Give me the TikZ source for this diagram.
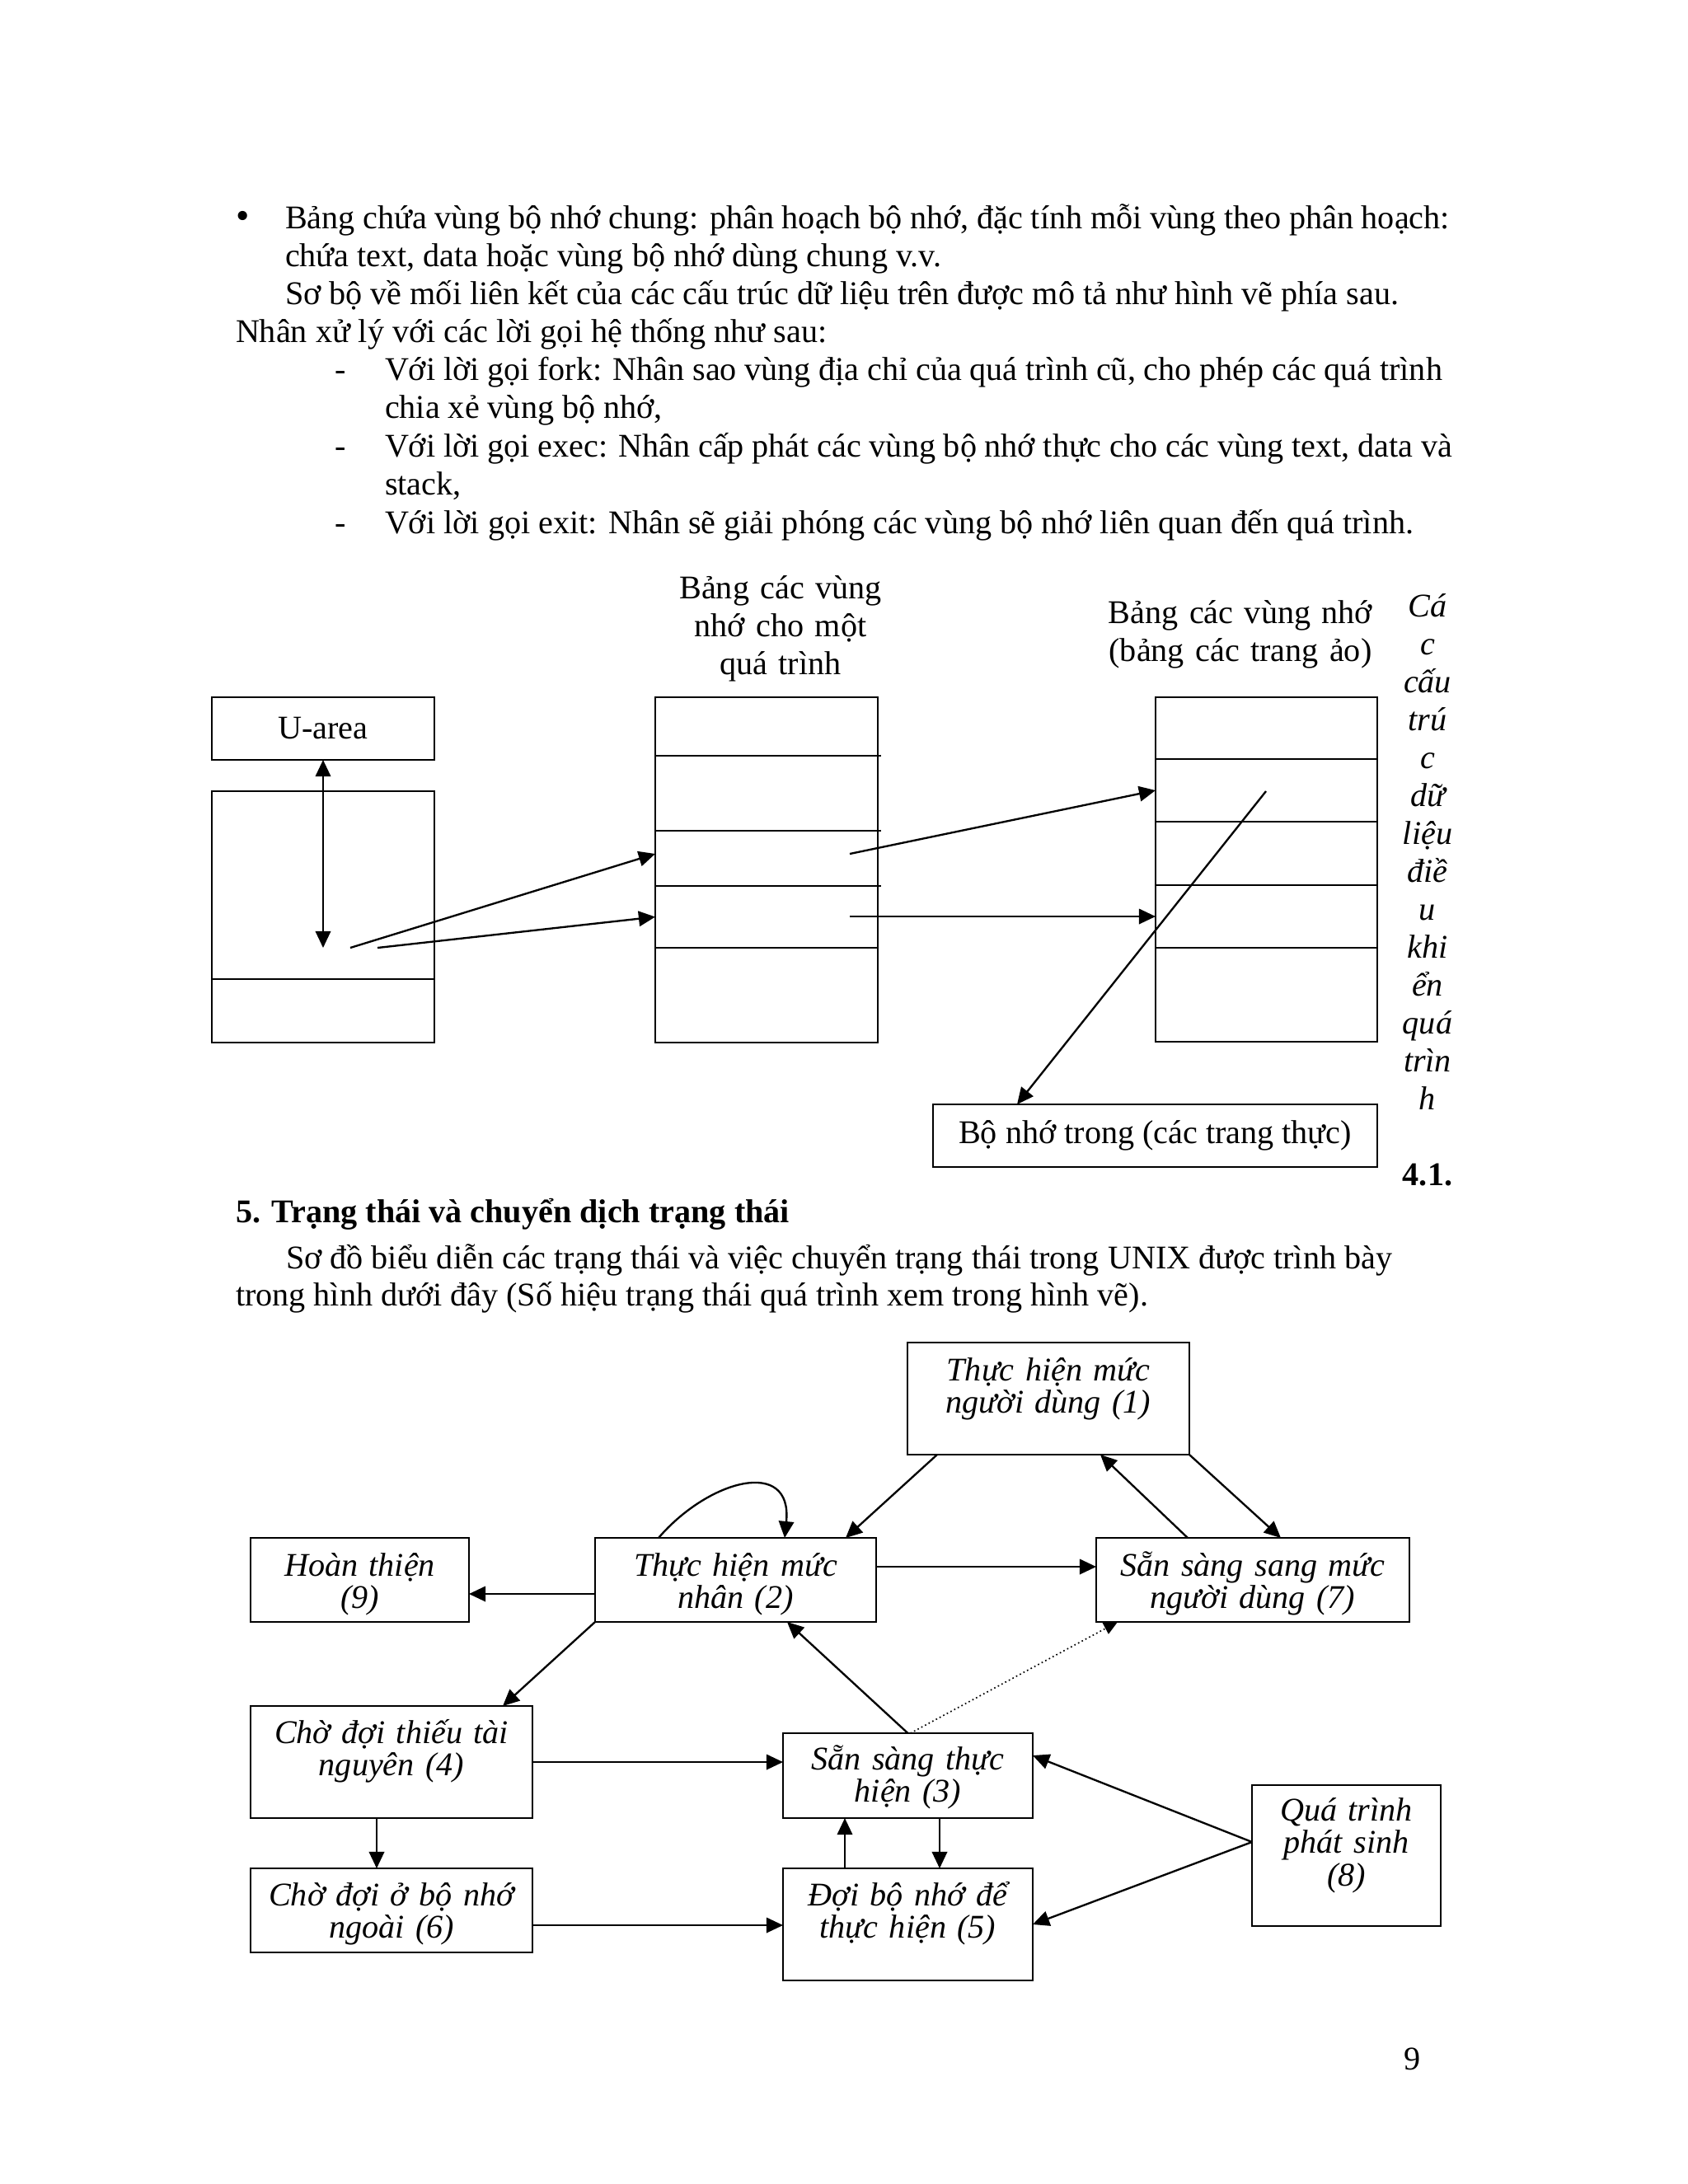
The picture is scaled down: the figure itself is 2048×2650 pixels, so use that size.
\documentclass[tikz,border=0pt]{standalone}
\usepackage{fontspec}
\setmainfont{Liberation Serif}
\usetikzlibrary{arrows.meta,calc}
\newcommand\myrect[6][]{\node[box,#1,minimum width={(#4-#2)*0.298828pt},minimum height={(#5-#3)*0.298828pt}] (#6) at ({(#2+#4)/2},{(#3+#5)/2}) {};}
\begin{document}
\begin{tikzpicture}[x=0.298828pt,y=-0.298828pt,
  box/.style={draw,line width=0.7pt,inner sep=0pt,outer sep=0pt},
  txt/.style={inner sep=0pt,outer sep=0pt,font=\fontsize{12}{13.75}\selectfont},
  ln/.style={txt,anchor=base west},
  ctitle/.style={txt,align=center,text width=150pt,anchor=base},
  stxt/.style={inner sep=0pt,outer sep=0pt,font=\fontsize{12}{11.85}\selectfont\itshape,align=center,text width=120pt,anchor=base},
  arr/.style={-{Triangle[length=6pt,width=5.5pt]},line width=0.7pt},
  arrtwo/.style={{Triangle[length=6pt,width=5.5pt]}-{Triangle[length=6pt,width=5.5pt]},line width=0.7pt},
  darr/.style={-{Triangle[length=5pt,width=4.5pt]},line width=0.5pt,densely dotted}]
\useasboundingbox (0,0) rectangle (2048,2650);
\fill[white] (0,0) rectangle (2048,2650);

% ---------- top text ----------
\node[txt,anchor=base] (bul) at (295,277) {\fontsize{14}{14}\selectfont •};
\node[ln] (l1) at (346,277) {\hbox to 422.2pt{Bảng chứa vùng bộ nhớ chung: phân hoạch bộ nhớ, đặc tính mỗi vùng theo phân hoạch:}};
\node[ln] (l2) at (346,323) {chứa text, data hoặc vùng bộ nhớ dùng chung v.v.};
\node[ln] (l3) at (346,369) {Sơ bộ về mối liên kết của các cấu trúc dữ liệu trên được mô tả như hình vẽ phía sau.};
\node[ln] (l4) at (286,415) {Nhân xử lý với các lời gọi hệ thống như sau:};
\node[ln] (d5) at (406,461) {-};
\node[ln] (l5) at (467,461) {\hbox to 383.4pt{Với lời gọi fork: Nhân sao vùng địa chỉ của quá trình cũ, cho phép các quá trình}};
\node[ln] (l6) at (467,507) {chia xẻ vùng bộ nhớ,};
\node[ln] (d7) at (406,554) {-};
\node[ln] (l7) at (467,554) {\hbox to 387.0pt{Với lời gọi exec: Nhân cấp phát các vùng bộ nhớ thực cho các vùng text, data và}};
\node[ln] (l8) at (467,600) {stack,};
\node[ln] (d9) at (406,647) {-};
\node[ln] (l9) at (467,647) {Với lời gọi exit: Nhân sẽ giải phóng các vùng bộ nhớ liên quan đến quá trình.};

% ---------- memory diagram ----------
\node[ctitle] (t1) at (947,726) {Bảng các vùng\\nhớ cho một\\quá trình};
\node[ctitle] (t2) at (1505,756) {Bảng các vùng nhớ\\(bảng các trang ảo)};
\node[txt,font=\fontsize{12}{13.75}\selectfont\itshape,align=center,text width=40pt,anchor=base] (vcol) at (1732,748)
  {Cá\\c\\cấu\\trú\\c\\dữ\\liệu\\điề\\u\\khi\\ển\\quá\\trìn\\h};
\node[txt,font=\fontsize{12}{13.75}\selectfont\bfseries,anchor=base] (fig) at (1732,1438) {4.1.};

\myrect{257}{846}{527}{922}{ua}
\node[txt] (uat) at (ua.center) {U-area};
\myrect{257}{960}{527}{1188}{lb1}
\myrect{257}{1188}{527}{1265}{lb2}

\myrect{795}{846}{1065}{917}{m1}
\myrect{795}{917}{1065}{1008}{m2}
\myrect{795}{1008}{1065}{1075}{m3}
\myrect{795}{1075}{1065}{1150}{m4}
\myrect{795}{1150}{1065}{1265}{m5}
\draw[line width=0.7pt] (m2.north east) -- ++(4,0);
\draw[line width=0.7pt] (m3.north east) -- ++(4,0);
\draw[line width=0.7pt] (m4.north east) -- ++(4,0);

\myrect{1402}{846}{1671}{921}{r1}
\myrect{1402}{921}{1671}{997}{r2}
\myrect{1402}{997}{1671}{1074}{r3}
\myrect{1402}{1074}{1671}{1150}{r4}
\myrect{1402}{1150}{1671}{1264}{r5}

\myrect{1132}{1340}{1671}{1416}{mem}
\node[txt] (memt) at (mem.center) {Bộ nhớ trong (các trang thực)};

\coordinate (ub) at (392,1150);
\coordinate (pa) at (425,1150);
\coordinate (pb) at (458,1150);
\coordinate (qa) at (1031,1036);
\coordinate (qb) at (1031,1112);
\coordinate (qe) at (1536,960);

\draw[arrtwo] (ua.south) -- (ub);
\draw[arr] (pa) -- ($(m3.west)+(0,-5.5)$);
\draw[arr] (pb) -- (m4.west);
\draw[arr] (qa) -- (r2.west);
\draw[arr] (qb) -- (r4.west);
\draw[arr] (qe) -- ($(mem.north west)+(102,0)$);

% ---------- section 5 text ----------
\node[ln,font=\fontsize{12}{13.75}\selectfont\bfseries] (h5) at (286,1483) {5. Trạng thái và chuyển dịch trạng thái};
\node[ln] (p1) at (347,1539) {Sơ đồ biểu diễn các trạng thái và việc chuyển trạng thái trong UNIX được trình bày};
\node[ln] (p2) at (286,1584) {trong hình dưới đây (Số hiệu trạng thái quá trình xem trong hình vẽ).};

% ---------- state diagram ----------
\myrect{1101}{1629}{1443}{1765}{s1}
\myrect{304}{1866}{569}{1968}{s9}
\myrect{722}{1866}{1063}{1968}{s2}
\myrect{1330}{1866}{1710}{1968}{s7}
\myrect{304}{2070}{646}{2206}{s4}
\myrect{304}{2267}{646}{2369}{s6}
\myrect{950}{2103}{1253}{2206}{s3}
\myrect{950}{2267}{1253}{2403}{s5}
\myrect{1519}{2166}{1748}{2337}{s8}

\node[stxt] (s1t) at ($(s1.north)+(0,46)$) {Thực hiện mức\\người dùng (1)};
\node[stxt] (s9t) at ($(s9.north)+(0,46)$) {Hoàn thiện\\(9)};
\node[stxt] (s2t) at ($(s2.north)+(0,46)$) {Thực hiện mức\\nhân (2)};
\node[stxt] (s7t) at ($(s7.north)+(0,46)$) {Sẵn sàng sang mức\\người dùng (7)};
\node[stxt] (s4t) at ($(s4.north)+(0,45)$) {Chờ đợi thiếu tài\\nguyên (4)};
\node[stxt] (s6t) at ($(s6.north)+(0,45)$) {Chờ đợi ở bộ nhớ\\ngoài (6)};
\node[stxt] (s3t) at ($(s3.north)+(0,44)$) {Sẵn sàng thực\\hiện (3)};
\node[stxt] (s5t) at ($(s5.north)+(0,45)$) {Đợi bộ nhớ để\\thực hiện (5)};
\node[stxt] (s8t) at ($(s8.north)+(0,43)$) {Quá trình\\phát sinh\\(8)};

\draw[arr] ($(s1.south west)+(36,0)$) -- ($(s2.north west)+(304,0)$);
\draw[arr] ($(s7.north west)+(111,0)$) -- ($(s1.south west)+(234,0)$);
\draw[arr] (s1.south east) -- ($(s7.north west)+(224,0)$);
\draw[arr] ($(s2.north west)+(77,0)$) .. controls (860,1795) and (962,1768) .. ($(s2.north west)+(230,0)$);
\draw[arr] ($(s2.east)+(0,-16)$) -- ($(s7.west)+(0,-16)$);
\draw[arr] ($(s2.west)+(0,17)$) -- ($(s9.east)+(0,17)$);
\draw[arr] (s2.south west) -- ($(s4.north west)+(306,0)$);
\draw[arr] (s3.north) -- ($(s2.south west)+(233,0)$);
\draw[darr] ($(s3.north)+(3,0)$) -- ($(s7.south west)+(26,0)$);
\draw[arr] (s4.east) -- (s4.east -| s3.west);
\draw[arr] ($(s4.south west)+(153,0)$) -- ($(s6.north west)+(153,0)$);
\coordinate (a12) at ($(s6.east)+(0,18)$);
\draw[arr] (a12) -- (a12 -| s5.west);
\draw[arr] ($(s5.north west)+(75,0)$) -- ($(s3.south west)+(75,0)$);
\draw[arr] ($(s3.south west)+(190,0)$) -- ($(s5.north west)+(190,0)$);
\coordinate (a8) at ($(s8.west)+(0,-16.5)$);
\draw[arr] (a8) -- ($(s3.east)+(0,-24.5)$);
\draw[arr] (a8) -- (s5.east);

% page number
\node[ln] (pg) at (1703,2511) {9};
\end{tikzpicture}
\end{document}
